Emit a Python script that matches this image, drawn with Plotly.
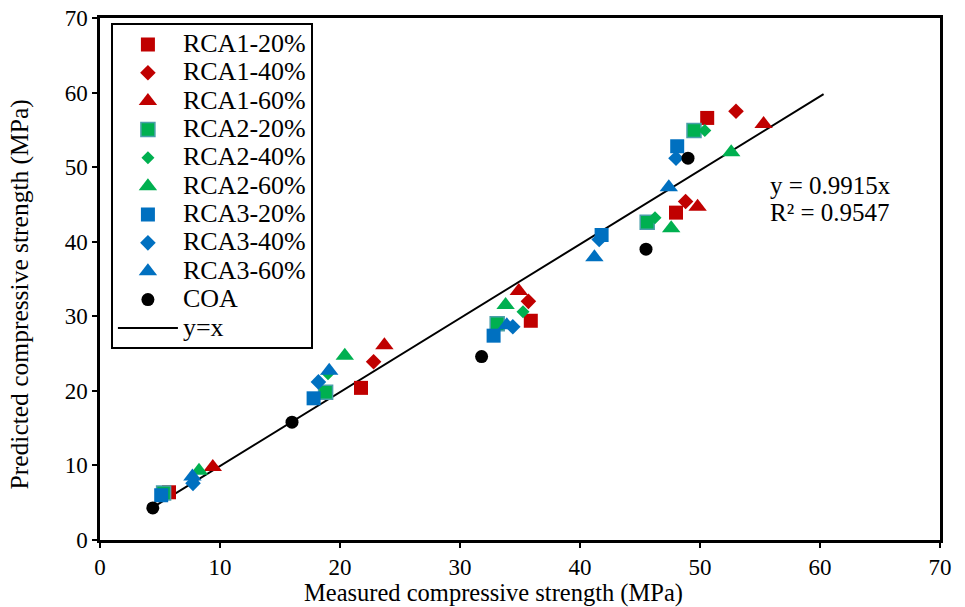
import plotly.graph_objects as go

# Measured vs predicted compressive strength (MPa) for each aggregate mix
rca1_20_x = [5.75, 21.75, 35.9, 48.0, 50.6]
rca1_20_y = [6.4, 20.4, 29.4, 43.9, 56.6]
rca1_40_x = [22.8, 35.7, 48.8, 53.0]
rca1_40_y = [23.9, 32.0, 45.4, 57.5]
rca1_60_x = [9.4, 23.7, 34.9, 49.8, 55.3]
rca1_60_y = [9.8, 26.1, 33.4, 44.7, 55.8]

rca2_20_x = [5.3, 18.8, 33.1, 45.6, 49.5]
rca2_20_y = [6.3, 19.8, 29.0, 42.6, 54.9]
rca2_40_x = [19.0, 35.25, 46.25, 50.4]
rca2_40_y = [22.3, 30.6, 43.2, 54.9]
rca2_60_x = [8.25, 20.4, 33.8, 47.6, 52.6]
rca2_60_y = [9.3, 24.7, 31.5, 41.8, 52.0]

rca3_20_x = [5.1, 17.8, 32.8, 41.8, 48.1]
rca3_20_y = [6.0, 19.0, 27.4, 40.9, 52.8]
rca3_40_x = [7.75, 18.2, 34.4, 41.6, 48.0]
rca3_40_y = [7.6, 21.2, 28.6, 40.3, 51.2]
rca3_60_x = [7.7, 19.1, 33.9, 41.2, 47.4]
rca3_60_y = [8.5, 22.7, 28.8, 37.9, 47.3]

coa_x = [4.4, 16.0, 31.8, 45.5, 49.0]
coa_y = [4.3, 15.8, 24.6, 39.0, 51.2]

# Linear fit through the origin
fit_slope = 0.9915
fit_r2 = 0.9547
fit_x = [4.4, 60.3]
fit_y = [fit_slope * v for v in fit_x]

axis_ticks = [0, 10, 20, 30, 40, 50, 60, 70]

RED = "#C00000"
GREEN = "#00B050"
BLUE = "#0070C0"
FONT = "Times New Roman"

series = [
    ("RCA1-20%", rca1_20_x, rca1_20_y, "square", 14, RED, None),
    ("RCA1-40%", rca1_40_x, rca1_40_y, "diamond", 12, RED, None),
    ("RCA1-60%", rca1_60_x, rca1_60_y, "triangle-up", 16, RED, None),
    ("RCA2-20%", rca2_20_x, rca2_20_y, "square", 14, GREEN, "#4A9FAA"),
    ("RCA2-40%", rca2_40_x, rca2_40_y, "diamond", 10, GREEN, None),
    ("RCA2-60%", rca2_60_x, rca2_60_y, "triangle-up", 16, GREEN, None),
    ("RCA3-20%", rca3_20_x, rca3_20_y, "square", 14, BLUE, None),
    ("RCA3-40%", rca3_40_x, rca3_40_y, "diamond", 12, BLUE, None),
    ("RCA3-60%", rca3_60_x, rca3_60_y, "triangle-up", 16, BLUE, None),
    ("COA", coa_x, coa_y, "circle", 13, "black", None),
]


def legend_name(text):
    return '<span style="font-size:26px">' + text + "</span>"


fig = go.Figure()

fig.add_trace(go.Scatter(
    x=fit_x, y=fit_y, mode="lines", name=legend_name("y=x"),
    line=dict(color="black", width=2), legendrank=2000,
))

for i, (name, xs, ys, sym, size, color, edge) in enumerate(series):
    marker = dict(symbol=sym, size=size, color=color)
    if edge:
        marker["line"] = dict(color=edge, width=1.5)
    else:
        marker["line"] = dict(width=0)
    fig.add_trace(go.Scatter(
        x=xs, y=ys, mode="markers", name=legend_name(name),
        marker=marker, legendrank=1000 + i,
    ))

text_font = dict(family=FONT, size=25, color="black")
fig.add_annotation(
    x=55.7, y=47.6, xref="x", yref="y", xanchor="left", yanchor="middle",
    text="y = %.4fx" % fit_slope, showarrow=False, font=text_font,
)
fig.add_annotation(
    x=55.7, y=43.9, xref="x", yref="y", xanchor="left", yanchor="middle",
    text="R² = %.4f" % fit_r2, showarrow=False, font=text_font,
)

# Axis titles
title_font = dict(family=FONT, size=24.5, color="black")
fig.add_annotation(
    x=0.469, y=-0.1015, xref="paper", yref="paper", xanchor="center",
    yanchor="middle", text="Measured compressive strength (MPa)",
    showarrow=False, font=title_font,
)
fig.add_annotation(
    x=-0.0955, y=0.47, xref="paper", yref="paper", xanchor="center",
    yanchor="middle", text="Predicted compressive strength (MPa)",
    textangle=-90, showarrow=False, font=dict(title_font, size=25.5),
)

axis_common = dict(
    range=[0, 70], tickvals=axis_ticks, showgrid=False, zeroline=False,
    showline=True, linecolor="black", linewidth=2.5, mirror=True,
    ticks="outside", ticklen=5, tickwidth=2, tickcolor="black",
    tickfont=dict(family=FONT, size=23, color="black"),
    automargin=False,
)

fig.update_layout(
    width=965, height=607,
    margin=dict(l=100, r=25, t=18, b=67),
    paper_bgcolor="white", plot_bgcolor="white",
    font=dict(family=FONT, color="black"),
    showlegend=True,
    legend=dict(
        x=0.013, y=0.990, xanchor="left", yanchor="top",
        bgcolor="white", bordercolor="black", borderwidth=2,
        font=dict(family=FONT, size=19.5, color="black"),
        itemwidth=60, traceorder="normal",
    ),
    xaxis=axis_common,
    yaxis=axis_common,
)

fig.write_html("out.html")
